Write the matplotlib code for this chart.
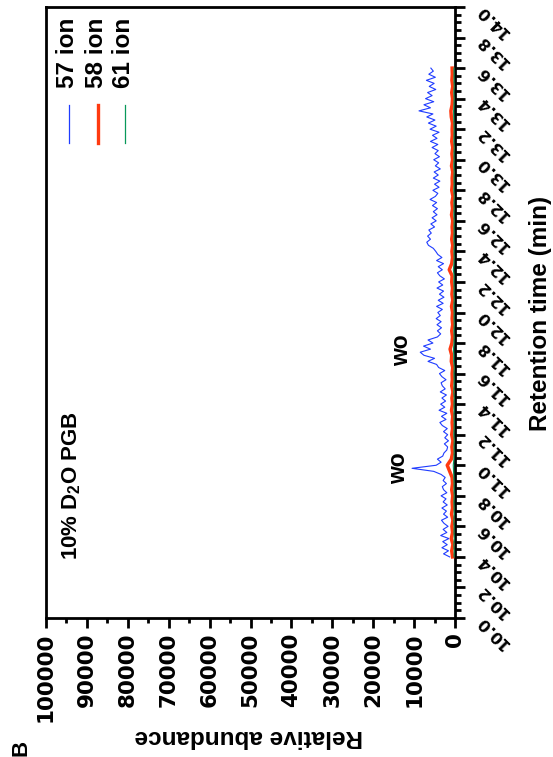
import matplotlib
matplotlib.use('Agg')
import matplotlib.pyplot as plt
from matplotlib.ticker import MultipleLocator
from matplotlib.lines import Line2D
from matplotlib import font_manager

plt.rcParams['font.family'] = ['Liberation Sans', 'DejaVu Sans']
plt.rcParams['mathtext.fontset'] = 'custom'
plt.rcParams['mathtext.rm'] = 'Liberation Sans:bold'
plt.rcParams['mathtext.bf'] = 'Liberation Sans:bold'
plt.rcParams['mathtext.it'] = 'Liberation Sans:bold'

# ---------------- data ----------------
time_fine = [
    10.40, 10.42, 10.44, 10.46, 10.48, 10.50, 10.52, 10.54, 10.56, 10.58,
    10.60, 10.62, 10.64, 10.66, 10.68, 10.70, 10.72, 10.74, 10.76, 10.78,
    10.80, 10.82, 10.84, 10.86, 10.88, 10.90, 10.92, 10.94, 10.96, 10.98,
    11.00, 11.02, 11.04, 11.06, 11.08, 11.10, 11.12, 11.14, 11.16, 11.18,
    11.20, 11.22, 11.24, 11.26, 11.28, 11.30, 11.32, 11.34, 11.36, 11.38,
    11.40, 11.42, 11.44, 11.46, 11.48, 11.50, 11.52, 11.54, 11.56, 11.58,
    11.60, 11.62, 11.64, 11.66, 11.68, 11.70, 11.72, 11.74, 11.76, 11.78,
    11.80, 11.82, 11.84, 11.86, 11.88, 11.90, 11.92, 11.94, 11.96, 11.98,
    12.00, 12.02, 12.04, 12.06, 12.08, 12.10, 12.12, 12.14, 12.16, 12.18,
    12.20, 12.22, 12.24, 12.26, 12.28, 12.30, 12.32, 12.34, 12.36, 12.38,
    12.40, 12.42, 12.44, 12.46, 12.48, 12.50, 12.52, 12.54, 12.56, 12.58,
    12.60, 12.62, 12.64, 12.66, 12.68, 12.70, 12.72, 12.74, 12.76, 12.78,
    12.80, 12.82, 12.84, 12.86, 12.88, 12.90, 12.92, 12.94, 12.96, 12.98,
    13.00, 13.02, 13.04, 13.06, 13.08, 13.10, 13.12, 13.14, 13.16, 13.18,
    13.20, 13.22, 13.24, 13.26, 13.28, 13.30, 13.32, 13.34, 13.36, 13.38,
    13.40, 13.42, 13.44, 13.46, 13.48, 13.50, 13.52, 13.54, 13.56, 13.58,
    13.60,
]
ion57 = [
    1300, 2800, 1600, 3200, 1900, 3000, 1500, 3500, 2000, 2900,
    1700, 2700, 3300, 1800, 2800, 2100, 3200, 1900, 2900, 2200,
    3400, 2000, 2800, 3100, 2100, 2900, 2400, 3400, 5200, 10500,
    4600, 3400, 4300, 3000, 2700, 2000, 1800, 2600, 1600, 2500,
    1800, 2800, 1900, 3100, 3700, 2200, 3300, 2000, 3900, 2500,
    3500, 2300, 3200, 2100, 3600, 2400, 3100, 3400, 2200, 3200,
    3800, 2500, 4000, 4500, 6600, 5000, 7600, 8500, 6000, 7700,
    5400, 6600, 4300, 3500, 4300, 3300, 4400, 3400, 4600, 3600,
    4200, 3100, 4500, 2900, 4100, 2700, 3800, 2800, 4400, 3000,
    4000, 2600, 3700, 4300, 3100, 4100, 2800, 4500, 3200, 4200,
    4700, 5300, 6500, 6900, 6000, 6700, 5800, 6400, 5000, 5900,
    4600, 5600, 4400, 5300, 4300, 5500, 4500, 6100, 4800, 4200,
    5400, 3900, 5000, 3700, 5300, 4100, 5100, 3600, 4800, 4000,
    5200, 3800, 4900, 4100, 5600, 4200, 6000, 4400, 5500, 3900,
    6100, 4600, 6500, 4900, 6900, 5400, 8800, 6000, 7600, 5200,
    7200, 5600, 6700, 4700, 6300, 5100, 7000, 4800, 6400, 5300,
    5900,
]
time_coarse = [
    10.40, 10.44, 10.48, 10.52, 10.56, 10.60, 10.64, 10.68, 10.72, 10.76,
    10.80, 10.84, 10.88, 10.92, 10.96, 11.00, 11.04, 11.08, 11.12, 11.16,
    11.20, 11.24, 11.28, 11.32, 11.36, 11.40, 11.44, 11.48, 11.52, 11.56,
    11.60, 11.64, 11.68, 11.72, 11.76, 11.80, 11.84, 11.88, 11.92, 11.96,
    12.00, 12.04, 12.08, 12.12, 12.16, 12.20, 12.24, 12.28, 12.32, 12.36,
    12.40, 12.44, 12.48, 12.52, 12.56, 12.60, 12.64, 12.68, 12.72, 12.76,
    12.80, 12.84, 12.88, 12.92, 12.96, 13.00, 13.04, 13.08, 13.12, 13.16,
    13.20, 13.24, 13.28, 13.32, 13.36, 13.40, 13.44, 13.48, 13.52, 13.56,
    13.60,
]
ion58 = [
    600, 800, 500, 900, 600, 750, 500, 850, 600, 700,
    550, 800, 600, 700, 1300, 1900, 900, 600, 750, 500,
    800, 600, 700, 550, 850, 600, 750, 500, 800, 650,
    700, 550, 900, 800, 1200, 750, 600, 800, 550, 700,
    600, 850, 550, 750, 600, 800, 700, 1400, 800, 600,
    750, 550, 800, 600, 700, 550, 850, 600, 750, 500,
    800, 650, 700, 550, 850, 600, 750, 550, 800, 650,
    700, 600, 900, 1000, 700, 600, 800, 550, 750, 650,
    700,
]
ion61 = [
    250, 200, 300, 180, 260, 220, 310, 190, 240, 280,
    200, 260, 230, 300, 350, 420, 280, 220, 260, 190,
    300, 240, 210, 280, 230, 260, 200, 310, 250, 220,
    270, 190, 330, 300, 380, 260, 230, 280, 200, 250,
    220, 300, 210, 260, 230, 290, 240, 400, 280, 220,
    260, 200, 300, 230, 250, 210, 290, 240, 260, 190,
    300, 230, 270, 210, 310, 240, 260, 200, 290, 250,
    230, 270, 320, 350, 260, 220, 290, 200, 260, 240,
    250,
]
series_names = ['57 ion', '58 ion', '61 ion']
abund_ticks = [0, 10000, 20000, 30000, 40000, 50000, 60000, 70000, 80000, 90000, 100000]
abund_labels = ['0', '10000', '20000', '30000', '40000', '50000', '60000', '70000', '80000', '90000', '100000']
time_ticks = [10.0, 10.2, 10.4, 10.6, 10.8, 11.0, 11.2, 11.4, 11.6, 11.8, 12.0,
              12.2, 12.4, 12.6, 12.8, 13.0, 13.2, 13.4, 13.6, 13.8, 14.0]
time_labels = ['10.0', '10.2', '10.4', '10.6', '10.8', '11.0', '11.2', '11.4', '11.6', '11.8', '12.0',
               '12.2', '12.4', '12.6', '12.8', '13.0', '13.2', '13.4', '13.6', '13.8', '14.0']
peak_label_abund = [11000, 10300]
peak_label_time = [10.98, 11.75]
peak_label_text = ['wo', 'wo']

# ---------------- figure ----------------
W, H = 553, 757
fig = plt.figure(figsize=(W / 100, H / 100), dpi=100)


def fx(px):
    return px / W


def fy(py):
    return 1 - py / H


try:
    font_manager.findfont(font_manager.FontProperties(family='Liberation Sans Narrow', weight='bold'),
                          fallback_to_default=False)
    title_family, title_size = ['Liberation Sans Narrow', 'DejaVu Sans'], 18.5
except Exception:
    title_family, title_size = ['Liberation Sans', 'DejaVu Sans'], 16

ax = fig.add_axes([fx(46), fy(618), fx(455) - fx(46), fy(7) - fy(618)])

c57, c58, c61 = '#1f3cff', '#ff3a10', '#08985a'
ax.plot(ion57, time_fine, color=c57, lw=0.8, zorder=3)
ax.plot(ion58, time_coarse, color=c58, lw=2.5, zorder=4)
ax.plot(ion61, time_coarse, color=c61, lw=0.8, zorder=5)

ax.set_xlim(100000, 0)
ax.set_ylim(10.0, 14.0)

ax.set_xticks(abund_ticks, labels=abund_labels)
ax.xaxis.set_minor_locator(MultipleLocator(5000))
ax.yaxis.tick_right()
ax.set_yticks(time_ticks, labels=time_labels)
ax.yaxis.set_minor_locator(MultipleLocator(0.05))

for s in ax.spines.values():
    s.set_linewidth(2.0)
    s.set_color('black')

ax.tick_params(axis='x', which='major', direction='out', length=7, width=2, pad=3.5)
ax.tick_params(axis='x', which='minor', direction='out', length=3.5, width=2)
ax.tick_params(axis='y', which='major', direction='out', length=7, width=2, pad=10,
               right=True, left=False, labelright=True, labelleft=False)
ax.tick_params(axis='y', which='minor', direction='out', length=4.5, width=2,
               right=True, left=False)

for lab in ax.get_xticklabels():
    lab.set_rotation(90)
    lab.set_fontfamily('DejaVu Sans')
    lab.set_fontweight('bold')
    lab.set_fontsize(15.5)
for lab in ax.get_yticklabels():
    lab.set_rotation(135)
    lab.set_rotation_mode('anchor')
    lab.set_ha('right')
    lab.set_va('center')
    lab.set_fontfamily('DejaVu Sans')
    lab.set_fontweight('bold')
    lab.set_fontsize(11.5)

# peak annotations
for a, t, s in zip(peak_label_abund, peak_label_time, peak_label_text):
    ax.text(a, t, s, rotation=90, ha='right', va='center', fontsize=16.5, fontweight='bold')

# legend (drawn by hand, rotated)
leg_x_text = [67.5, 96.5, 123.5]
leg_x_line = [69, 98, 125]
for name, xt, xl, col, lw in zip(series_names, leg_x_text, leg_x_line,
                                 [c57, c58, c61], [0.9, 2.4, 0.9]):
    fig.text(fx(xt), fy(18), name, rotation=90, ha='center', va='top',
             fontsize=17.5, fontweight='bold')
    fig.add_artist(Line2D([fx(xl), fx(xl)], [fy(105), fy(143)], color=col, lw=lw))

fig.text(fx(72), fy(560), r'10% D$_\mathbf{2}$O PGB', rotation=90, ha='center', va='bottom',
         fontsize=title_size, fontweight='bold', family=title_family)
fig.text(fx(21), fy(748), 'B', rotation=90, ha='center', va='center', fontsize=16, fontweight='bold')
fig.text(fx(249), fy(736), 'Relative abundance', rotation=180, ha='center', va='center',
         fontsize=17.5, fontweight='bold')
fig.text(fx(540), fy(313), 'Retention time (min)', rotation=90, ha='center', va='center',
         fontsize=17.5, fontweight='bold')

fig.savefig('out.png', dpi=100)
